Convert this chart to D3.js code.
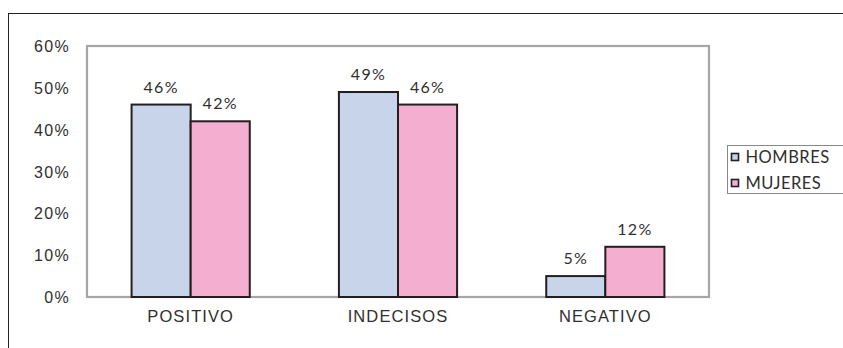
<!DOCTYPE html>
<html>
<head>
<meta charset="utf-8">
<script src="https://cdn.jsdelivr.net/npm/d3@7"></script>
<style>
  html, body { margin: 0; padding: 0; background: #fff; }
  svg { display: block; font-family: "Lato", "Open Sans", sans-serif; }
</style>
</head>
<body>
<svg id="chart" width="843" height="348"></svg>
<script>
// Opinion by sex, share of respondents
const categories = ["POSITIVO", "INDECISOS", "NEGATIVO"];
const seriesNames = ["HOMBRES", "MUJERES"];
const hombres = [0.46, 0.49, 0.05];
const mujeres = [0.42, 0.46, 0.12];
const yTicks = [0, 0.1, 0.2, 0.3, 0.4, 0.5, 0.6];

const seriesValues = [hombres, mujeres];
const colors = ["#c8d4ea", "#f4aecf"];
const textColor = "#2f2f2f";

const svg = d3.select("#chart");
const plot = { left: 87, right: 709, top: 46, bottom: 297 };

// Outer frame
svg.append("rect")
  .attr("x", 8.5).attr("y", 13.5)
  .attr("width", 900).attr("height", 400)
  .attr("fill", "none").attr("stroke", "#222").attr("stroke-width", 1);

const x0 = d3.scaleBand().domain(categories).range([plot.left, plot.right]).padding(0);
const gap = x0.bandwidth() * 0.43;
const x1 = d3.scaleBand().domain(seriesNames).range([gap / 2, x0.bandwidth() - gap / 2]).padding(0);
const y = d3.scaleLinear().domain([0, 0.6]).range([plot.bottom, plot.top]);
const pct = d3.format(".0%");

// Plot area border
svg.append("rect")
  .attr("x", plot.left).attr("y", plot.top)
  .attr("width", plot.right - plot.left).attr("height", plot.bottom - plot.top)
  .attr("fill", "none").attr("stroke", "#a6a6a6").attr("stroke-width", 2.2);

// Y axis labels
const yAxis = d3.axisLeft(y).tickValues(yTicks).tickFormat(pct).tickSize(0).tickPadding(17);
const yg = svg.append("g").attr("transform", `translate(${plot.left},0)`).call(yAxis);
yg.select(".domain").remove();
yg.selectAll("text")
  .attr("fill", textColor).style("font-size", "16px").style("letter-spacing", "1.3px")
  .attr("dy", "0.35em");

// X axis labels
const xAxis = d3.axisBottom(x0).tickSize(0).tickPadding(13);
const xg = svg.append("g").attr("transform", `translate(0,${plot.bottom})`).call(xAxis);
xg.select(".domain").remove();
xg.selectAll("text")
  .attr("fill", textColor).style("font-size", "16.5px").style("letter-spacing", "1.1px");

// Bars
const rows = categories.map((c, i) => ({ cat: c, vals: seriesNames.map((s, j) => ({ s, j, v: seriesValues[j][i] })) }));
const groups = svg.selectAll("g.grp").data(rows).join("g")
  .attr("class", "grp")
  .attr("transform", d => `translate(${x0(d.cat)},0)`);

groups.selectAll("rect").data(d => d.vals).join("rect")
  .attr("x", d => x1(d.s))
  .attr("y", d => y(d.v))
  .attr("width", x1.bandwidth())
  .attr("height", d => y(0) - y(d.v))
  .attr("fill", d => colors[d.j])
  .attr("stroke", "#231f20").attr("stroke-width", 2);

groups.selectAll("text.val").data(d => d.vals).join("text")
  .attr("class", "val")
  .attr("x", d => x1(d.s) + x1.bandwidth() / 2)
  .attr("y", d => y(d.v) - 12)
  .attr("text-anchor", "middle")
  .attr("fill", textColor).style("font-size", "16px").style("letter-spacing", "1.3px")
  .text(d => pct(d.v));

// Legend
const lg = svg.append("g").attr("transform", "translate(727.5,145.5)");
lg.append("rect").attr("width", 130).attr("height", 48)
  .attr("fill", "#fff").attr("stroke", "#888").attr("stroke-width", 1);
const items = lg.selectAll("g.item").data(seriesNames).join("g")
  .attr("class", "item")
  .attr("transform", (d, i) => `translate(0,${11.5 + i * 26})`);
items.append("rect").attr("x", 4).attr("y", -3.5).attr("width", 7).attr("height", 7)
  .attr("fill", (d, i) => colors[i]).attr("stroke", "#231f20").attr("stroke-width", 1.6);
items.append("text").attr("x", 18).attr("dy", "0.36em")
  .attr("fill", textColor).style("font-size", "16.5px").style("letter-spacing", "0.5px")
  .text(d => d);
</script>
</body>
</html>
